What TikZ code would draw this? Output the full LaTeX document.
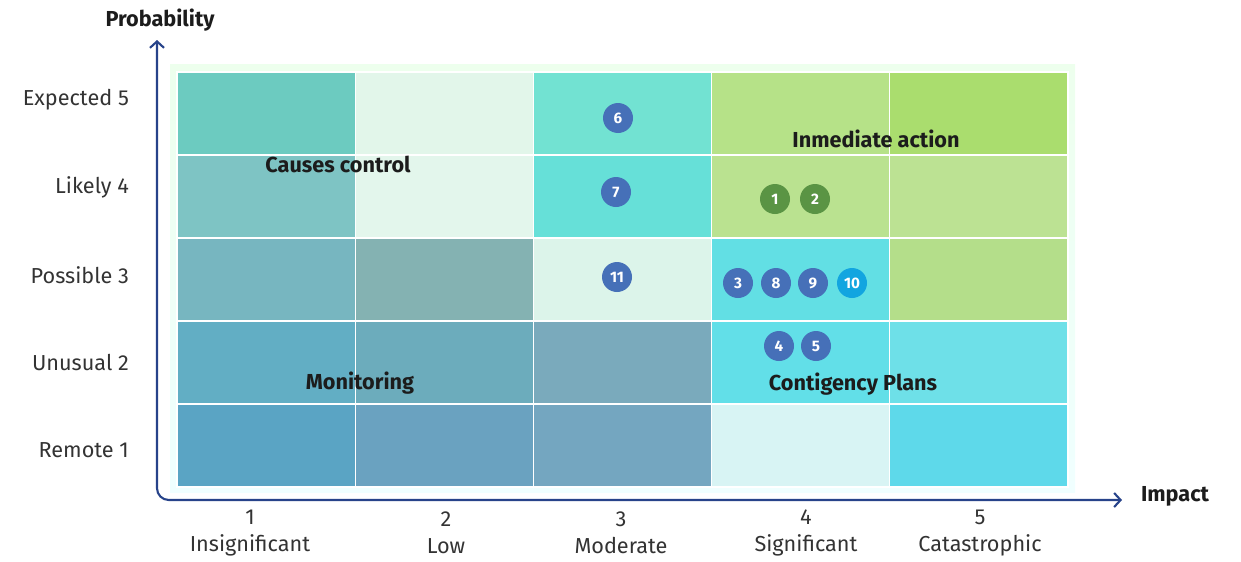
\documentclass[tikz,border=0pt]{standalone}
\usepackage{fontspec}
\setmainfont{Fira Sans}
\usetikzlibrary{arrows.meta,positioning,calc}

\definecolor{axisblue}{HTML}{27438A}
\definecolor{dotblue}{HTML}{4670B8}
\definecolor{dotgreen}{HTML}{5A9444}
\definecolor{dotcyan}{HTML}{12A5E0}
\definecolor{labelgray}{HTML}{333333}
\definecolor{headblack}{HTML}{1C1C1C}

\begin{document}
\begin{tikzpicture}[x=0.03cm, y=-0.03cm,
		cell/.style={draw=white, line width=0.9pt, fill=#1},
		axis/.style={draw=axisblue, line width=1.8pt, rounded corners=10pt,
			{Straight Barb[length=5.5pt, width=12pt, line width=1.8pt]}-{Straight Barb[length=5.5pt, width=12pt, line width=1.8pt]}},
		ylab/.style={anchor=east, text=labelgray, font=\fontsize{18.5}{20}\selectfont},
		xlab/.style={align=center, text=labelgray, font=\fontsize{18.5}{23}\selectfont},
		head/.style={text=headblack, font=\fontsize{18.5}{20}\selectfont\bfseries},
		risk/.style={circle, fill=#1, text=white, inner sep=0pt, minimum size=0.9cm,
			font=\fontsize{13}{14}\selectfont\bfseries}
		]
		\useasboundingbox (0,0) rectangle (1241,561);

		% ── Background panel ──
		\fill[top color=green!7!white, bottom color=cyan!6!white] (170,64) rectangle (1075,492);

		% ── Matrix cells: row by row, probability 5 down to 1 ──
		\foreach \r/\y in {5/72, 4/155, 3/238, 2/321, 1/404}{
			\foreach \i in {1,...,5}{
				\coordinate (c\r\i) at ({177+(\i-1)*178.2}, \y);
			}
		}
		\foreach \r/\cols in {5/{6CCBC0,E2F6EA,72E2D2,B6E288,AADD6E},
			4/{7EC4C4,E3F6EC,66E0D8,BAE290,BCE293},
			3/{77B6C0,84B2B2,DCF4EA,62DFE4,B4DE8A},
			2/{62AEC4,6CACBC,7AAABC,62DFE8,6EE0E8},
			1/{5AA4C4,6AA2C0,74A6C0,D8F4F4,5ED9EA}}{
			\foreach \col [count=\i] in \cols{
				\definecolor{cellcol}{HTML}{\col}
				\draw[cell=cellcol] (c\r\i) rectangle ++(178.2,83);
			}
		}

		% ── Axes ──
		\coordinate (ytip) at (157,40);
		\coordinate (xtip) at (1122,500);
		\draw[axis] (ytip) |- (xtip);
		\node[head] (prob) at (160,20) {Probability};
		\node[head] (imp) at (1175,496) {Impact};

		% ── Probability labels ──
		\node[ylab] (p5) at (133,100) {Expected 5};
		\node[ylab] (p4) at (133,187) {Likely 4};
		\node[ylab] (p3) at (133,275) {Possible 3};
		\node[ylab] (p2) at (133,362) {Unusual 2};
		\node[ylab] (p1) at (133,450) {Remote 1};

		% ── Impact labels ──
		\node[xlab] (i1) at (250,533) {1\\Insignificant};
		\node[xlab] (i2) at (446,533) {2\\Low};
		\node[xlab] (i3) at (621,533) {3\\Moderate};
		\node[xlab] (i4) at (806,533) {4\\Significant};
		\node[xlab] (i5) at (980,533) {5\\Catastrophic};

		% ── Zone headings ──
		\node[head] (causes) at (338,164) {Causes control};
		\node[head] (action) at (876,139) {Inmediate action};
		\node[head] (monit) at (360,383) {Monitoring};
		\node[head] (plans) at (853,384) {Contigency Plans};

		% ── Risks ──
		\node[risk=dotblue] (r6) at (618,118) {6};
		\node[risk=dotblue] (r7) at (616,192) {7};
		\node[risk=dotblue] (r11) at (617,277) {11};
		\node[risk=dotgreen] (r1) at (775,199) {1};
		\node[risk=dotgreen] (r2) at (815,199) {2};
		\node[risk=dotblue] (r3) at (738,283) {3};
		\node[risk=dotblue] (r8) at (776,283) {8};
		\node[risk=dotblue] (r9) at (813,283) {9};
		\node[risk=dotcyan] (r10) at (852,283) {10};
		\node[risk=dotblue] (r4) at (779,346) {4};
		\node[risk=dotblue] (r5) at (816,346) {5};
	\end{tikzpicture}
\end{document}
